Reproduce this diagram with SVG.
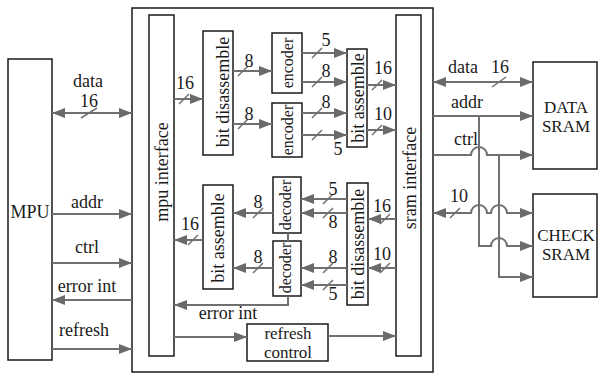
<svg xmlns="http://www.w3.org/2000/svg" width="600" height="374" viewBox="0 0 600 374">
<defs>
<marker id="ah" markerUnits="userSpaceOnUse" markerWidth="14" markerHeight="10" refX="13" refY="5" orient="auto-start-reverse">
<path d="M0,0 L13,5 L0,10 z" fill="#6a6a6a"/>
</marker>
<style>
.box{fill:#fff;stroke:#1a1a1a;stroke-width:1.5}
.ln{fill:none;stroke:#707070;stroke-width:2}
.ar{fill:none;stroke:#707070;stroke-width:2;marker-end:url(#ah)}
.da{fill:none;stroke:#707070;stroke-width:2;marker-end:url(#ah);marker-start:url(#ah)}
.sl{stroke:#707070;stroke-width:1.5}
text{font-family:"Liberation Serif","Times New Roman",serif;font-size:18px;fill:#1a1a1a;text-anchor:middle}
.sm{font-size:16px}
.tw{font-size:17px}
</style>
</defs>
<rect width="600" height="374" fill="#fff"/>
<g id="outer"><rect class="box" x="132" y="8" width="301" height="364"/></g>
<g id="mpu"><rect class="box" x="8" y="59" width="44" height="301"/><text x="30" y="218">MPU</text></g>
<g id="mpu-interface"><rect class="box" x="149" y="15" width="25" height="341"/><text x="168" y="172" transform="rotate(-90 168 172)">mpu interface</text></g>
<g id="sram-interface"><rect class="box" x="396" y="15" width="25" height="341"/><text x="416" y="178" transform="rotate(-90 416 178)">sram interface</text></g>
<g id="bit-disassemble-1"><rect class="box" x="203" y="31" width="30" height="124"/><text x="229" y="92" transform="rotate(-90 229 92)">bit disassemble</text></g>
<g id="encoder-1"><rect class="box" x="272" y="33" width="30" height="60"/><text class="sm" x="293" y="63" transform="rotate(-90 293 63)">encoder</text></g>
<g id="encoder-2"><rect class="box" x="272" y="103" width="30" height="54"/><text class="sm" x="293" y="130" transform="rotate(-90 293 130)">encoder</text></g>
<g id="bit-assemble-1"><rect class="box" x="347" y="49" width="20" height="98"/><text x="364" y="98" transform="rotate(-90 364 98)">bit assemble</text></g>
<g id="bit-assemble-2"><rect class="box" x="203" y="185" width="30" height="104"/><text x="224" y="238" transform="rotate(-90 224 238)">bit assemble</text></g>
<g id="decoder-1"><rect class="box" x="273" y="177" width="28" height="56"/><text class="sm" x="291" y="205" transform="rotate(-90 291 205)">decoder</text></g>
<g id="decoder-2"><rect class="box" x="273" y="241" width="28" height="55"/><text class="sm" x="291" y="268" transform="rotate(-90 291 268)">decoder</text></g>
<g id="bit-disassemble-2"><rect class="box" x="347" y="183" width="21" height="122"/><text x="364" y="244" transform="rotate(-90 364 244)">bit disassemble</text></g>
<g id="refresh-control"><rect class="box" x="247" y="324" width="81" height="37"/><text class="tw" x="288" y="339">refresh</text><text class="tw" x="288" y="358">control</text></g>
<g id="data-sram"><rect class="box" x="533" y="62" width="64" height="107"/><text class="tw" x="566" y="113">DATA</text><text class="tw" x="566" y="132">SRAM</text></g>
<g id="check-sram"><rect class="box" x="533" y="194" width="64" height="103"/><text class="tw" x="566" y="241">CHECK</text><text class="tw" x="566" y="260">SRAM</text></g>

<g id="connectors">
<path class="da" d="M52,113 H132"/>
<path class="ar" d="M52,214 H132"/>
<path class="ar" d="M52,263 H132"/>
<path class="ar" d="M132,300 H52"/>
<path class="ar" d="M52,349 H132"/>
<path class="ar" d="M174,99 H203"/>
<path class="ar" d="M233,71 H272"/>
<path class="ar" d="M233,124 H272"/>
<path class="ar" d="M302,53 H347"/>
<path class="ar" d="M302,82 H347"/>
<path class="ar" d="M302,113 H347"/>
<path class="ar" d="M302,135 H347"/>
<path class="ar" d="M367,85 H396"/>
<path class="ar" d="M367,130 H396"/>
<path class="ar" d="M396,219 H368"/>
<path class="ar" d="M396,268 H368"/>
<path class="ar" d="M347,199 H301"/>
<path class="ar" d="M347,213 H301"/>
<path class="ar" d="M347,268 H301"/>
<path class="ar" d="M347,285 H301"/>
<path class="ar" d="M273,213 H233"/>
<path class="ar" d="M273,268 H233"/>
<path class="ar" d="M203,240 H174"/>
<path class="ln" d="M288,233 V241"/>
<path class="ar" d="M288,296 V305 H174"/>
<path class="ar" d="M174,337 H247"/>
<path class="ar" d="M328,336 H396"/>
<path class="da" d="M433,82 H533"/>
<path class="ar" d="M433,116 H533"/>
<path class="ar" d="M433,155 H471 A8,8 0 0 1 487,155 H533"/>
<path class="da" d="M433,213 H471 A8,8 0 0 1 487,213 H491 A8,8 0 0 1 507,213 H533"/>
<path class="ar" d="M479,116 V246 H491 A8,8 0 0 1 507,246 H533"/>
<path class="ar" d="M499,155 V277 H533"/>
<path class="sl" d="M81,118 L97,108 M179,104 L189,94 M238,76 L248,66 M238,129 L248,119 M312,58 L322,48 M312,87 L322,77 M312,118 L322,108 M312,140 L322,130 M372,90 L382,80 M372,135 L382,125 M492,87 L506,77 M450,218 L460,208 M380,224 L390,214 M380,273 L390,263 M323,204 L333,194 M323,218 L333,208 M323,273 L333,263 M323,290 L333,280 M253,218 L263,208 M253,273 L263,263 M188,245 L198,235"/>
</g>

<g id="labels">
<text x="88" y="87">data</text><text x="89" y="107">16</text>
<text x="87" y="208">addr</text><text x="87" y="253">ctrl</text><text x="87" y="292">error int</text><text x="84" y="336">refresh</text>
<text x="185" y="89">16</text>
<text x="249" y="67">8</text><text x="249" y="120">8</text>
<text x="326" y="46">5</text><text x="326" y="77">8</text><text x="326" y="108">8</text><text x="338" y="155">5</text>
<text x="383" y="74">16</text><text x="383" y="120">10</text>
<text x="463" y="73">data</text><text x="500" y="73">16</text>
<text x="467" y="108">addr</text><text x="466" y="145">ctrl</text><text x="459" y="202">10</text>
<text x="190" y="230">16</text>
<text x="258" y="208">8</text><text x="258" y="263">8</text>
<text x="333" y="195">5</text><text x="333" y="228">8</text><text x="333" y="263">8</text><text x="333" y="300">5</text>
<text x="382" y="212">16</text><text x="382" y="260">10</text>
<text x="228" y="319">error int</text>
</g>
</svg>
